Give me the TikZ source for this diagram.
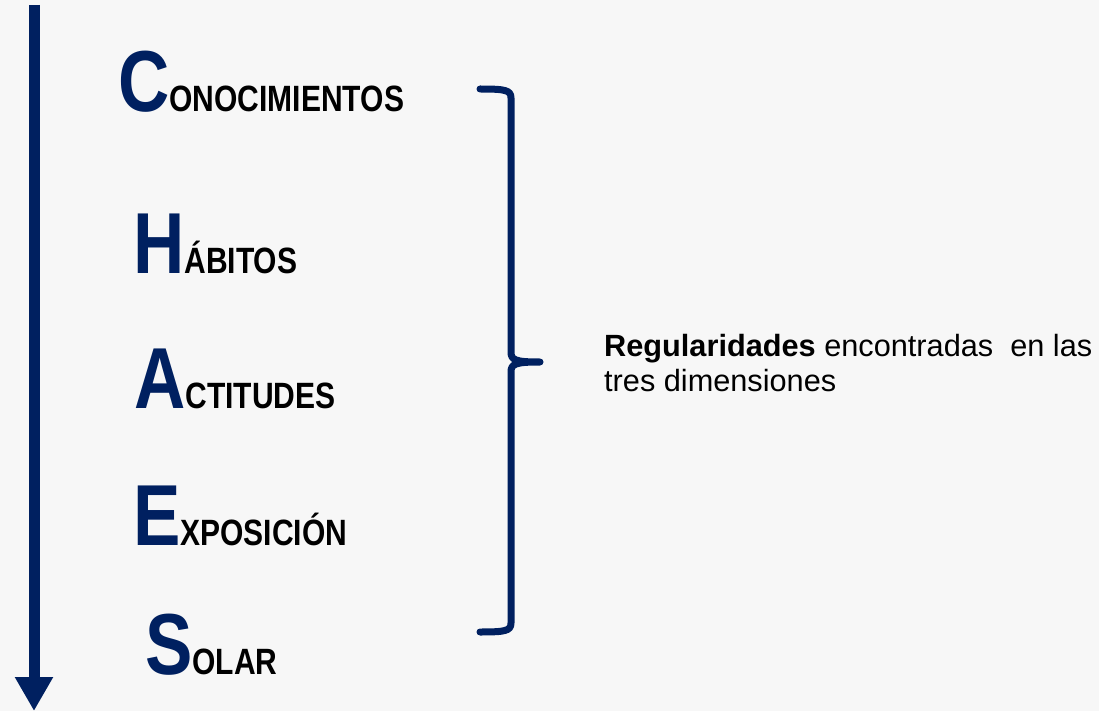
\documentclass[tikz,border=0pt]{standalone}
\usepackage{fontspec}
\setmainfont[FakeStretch=0.82]{Liberation Sans}
\newfontfamily\widefont{Liberation Sans}
\usepackage{xcolor}
\usetikzlibrary{arrows.meta}
\definecolor{navy}{HTML}{002060}
\definecolor{bgray}{HTML}{F7F7F7}
\newcommand{\chaes}[2]{{\color{navy}\fontsize{86.6}{90}\selectfont\bfseries #1}{\fontsize{36.6}{40}\selectfont\bfseries #2}}

\begin{document}
\begin{tikzpicture}[x=1pt,y=-1pt,
  word/.style={anchor=base west,inner sep=0pt}]
\fill[bgray] (0,0) rectangle (1099,711);
\useasboundingbox (0,0) rectangle (1099,711);
% vertical arrow
\coordinate (top) at (34,5);
\coordinate (tip) at (34,711);
\draw[navy,line width=11pt,-{Triangle[width=36pt,length=34pt]}] (top)--(tip);
% words
\node[word] (con) at (118,112) {\chaes{C}{ONOCIMIENTOS}};
\node[word] (hab) at (133,273) {\chaes{H}{ÁBITOS}};
\node[word] (act) at (134,408) {\chaes{A}{CTITUDES}};
\node[word] (exp) at (133,545) {\chaes{E}{XPOSICIÓN}};
\node[word] (sol) at (145,674) {\chaes{S}{OLAR}};
% brace
\draw[navy,line width=7pt,line cap=round,line join=round]
  (480,89) .. controls (505,89) and (511,90) .. (511,98) -- (511,352)
  .. controls (511,360) and (515,362) .. (540,362)
  .. controls (515,362) and (511,364) .. (511,372) -- (511,623)
  .. controls (511,631) and (505,632) .. (480,632);
\node[anchor=north west,inner sep=0pt,align=left,font=\widefont\fontsize{30.7}{35}\selectfont] (reg) at (604,334)
  {\textbf{Regularidades} encontradas \ en las\\tres dimensiones};
\end{tikzpicture}
\end{document}
